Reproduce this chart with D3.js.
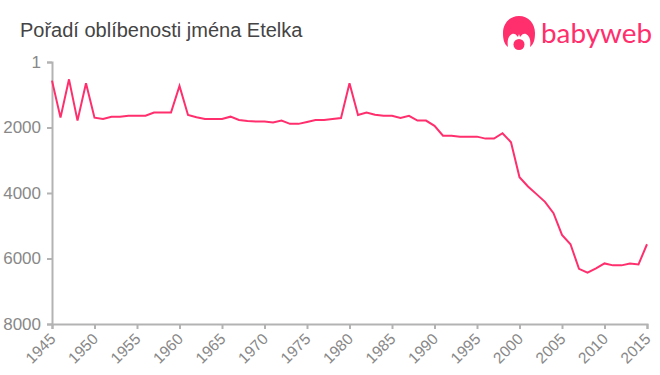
<!DOCTYPE html>
<html>
<head>
<meta charset="utf-8">
<script src="https://cdn.jsdelivr.net/npm/d3@7"></script>
<style>
html,body{margin:0;padding:0;background:#fff;}
svg{display:block;}
.tick text{font-family:"Liberation Sans",Arial,sans-serif;font-size:17px;fill:#888;}
.x_ticks .tick text{font-size:15.5px;}
</style>
</head>
<body>
<div id="chart"></div>
<script>
var title = 'Pořadí oblíbenosti jména Etelka';
var years = d3.range(1945,2016);
var ranks = [570,1700,530,1790,650,1700,1740,1670,1670,1640,1640,1640,1545,1545,1545,730,
	1620,1690,1740,1740,1740,1670,1770,1800,1820,1820,1850,1790,1890,1890,1830,1770,1770,1740,1710,650,
	1620,1545,1610,1645,1645,1710,1645,1790,1790,1950,2250,2250,2280,2280,2280,2340,2340,2175,2450,3520,
	3800,4035,4270,4615,5280,5565,6315,6430,6300,6150,6210,6210,6150,6180,5565];
var year_ticks = d3.range(1945,2016,5);
var rank_ticks = [1,2000,4000,6000,8000];

var width = 660, height = 375;
var pink = '#ff2e6d', axis_col = '#b3b3b3';

var svg = d3.select('#chart').append('svg')
	.attr('width',width)
	.attr('height',height);

var x = d3.scaleLinear().domain([1945,2015]).range([52,647]);
var y = d3.scaleLinear().domain([1,8000]).range([62,324]);

svg.append('text')
	.attr('x',20).attr('y',37)
	.style('font-family','"Liberation Sans",Arial,sans-serif')
	.style('font-size','20px')
	.style('fill','#444')
	.text(title);

// axes
var y_axis = svg.append('g')
	.attr('transform','translate(52,0)')
	.call(d3.axisLeft(y).tickValues(rank_ticks).tickFormat(d3.format('d')).tickSize(5).tickPadding(6));
var x_axis = svg.append('g')
	.attr('class','x_ticks')
	.attr('transform','translate(0,324)')
	.call(d3.axisBottom(x).tickValues(year_ticks).tickFormat(d3.format('d')).tickSize(5).tickPadding(4));

x_axis.selectAll('text')
	.attr('text-anchor','end')
	.attr('x',0)
	.attr('y',0)
	.attr('dy',0)
	.attr('transform','translate(4,16) rotate(-45)');

[x_axis,y_axis].forEach(function(a){
	a.selectAll('.domain').attr('stroke',axis_col).attr('stroke-width',2);
	a.selectAll('.tick line').attr('stroke',axis_col).attr('stroke-width',2);
});

// the series
var line = d3.line().x((d,i)=>x(years[i])).y((d)=>y(d));
svg.append('path')
	.datum(ranks)
	.attr('d',line)
	.attr('fill','none')
	.attr('stroke',pink)
	.attr('stroke-width',2);

// logo
var logo = svg.append('g').attr('transform','translate(519,33)');
logo.append('path')
	.attr('d','M-11,14 C-15,11 -16,6 -16,0 C-16,-10 -9,-17 0,-17 C9,-17 16,-10 16,0 C16,6 15,11 11,14 C12,8 11,3 7,1 C5,0 3,1 1,4 L0,1 L-1,4 C-3,1 -5,0 -7,1 C-11,3 -12,8 -11,14 Z')
	.attr('fill',pink);
logo.append('circle')
	.attr('cx',0).attr('cy',11.5).attr('r',5.5)
	.attr('fill',pink);
svg.append('text')
	.attr('x',541).attr('y',43)
	.style('font-family','Lato,"Noto Sans",sans-serif')
	.style('font-size','27px')
	.style('fill',pink)
	.attr('textLength',111)
	.attr('lengthAdjust','spacingAndGlyphs')
	.text('babyweb');
</script>
</body>
</html>
